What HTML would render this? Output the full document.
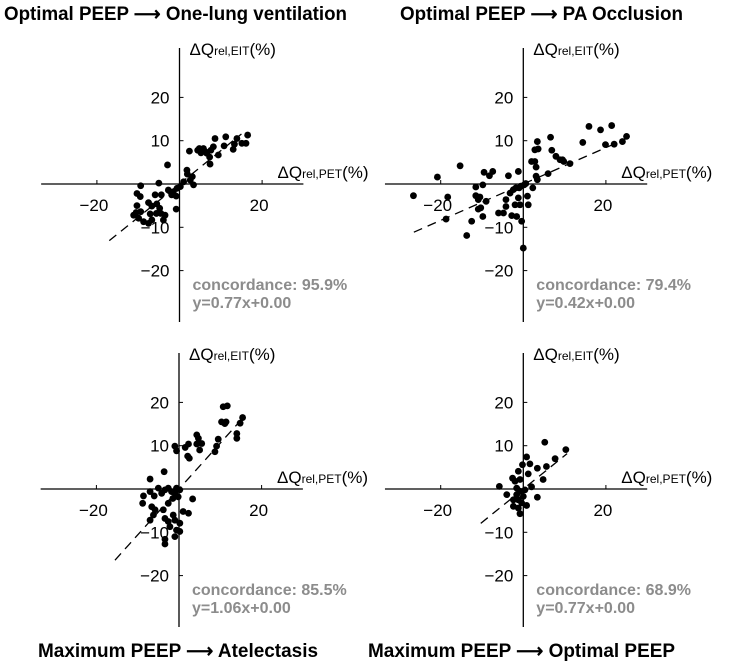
<!DOCTYPE html>
<html><head><meta charset="utf-8"><style>
body{margin:0;background:#fff;}
svg{display:block;font-family:"Liberation Sans",Arial,sans-serif;}
</style></head><body>
<svg id="chart" width="731" height="664" viewBox="0 0 731 664" xmlns="http://www.w3.org/2000/svg"></svg>
<script>
// Panel data (x = ΔQrel,PET %, y = ΔQrel,EIT %)
const p1x=[2.4,4.4,5.2,5.8,6.6,7.6,8.2,7.3,7.4,8.6,9.4,11.2,10.8,13,13.3,13.9,15.1,16.1,16.5,4.8,6.2,-2.9,1.8,1.9,3.1,3.4,2.6,1,0.2,-0.6,-1.5,-1.9,-2.7,-0.8,-0.8,-5,-4.4,-9.4,-10.3,-9.5,-10.3,-7.5,-6.7,-5.9,-5.5,-4.8,-4.5,-3.5,-3.9,-11.1,-10.5,-9.9,-8.7,-7.5,-6.7,-9.4,-7.1,-5.6];
const p1y=[7.6,7.8,7.2,8.2,7.1,7.8,8.6,6.2,4.6,10.5,6.7,10.9,8.8,8,9.2,10.5,9.4,9.4,11.3,8.2,7.5,4.4,3.2,2.3,1.7,-0.2,0.9,0.5,-0.6,-1,-1.8,-2.5,-1.4,-2.8,-5.8,0.2,-2.5,-0.4,-2.2,-2.9,-5,-4.3,-5.1,-2.5,-4.6,-5.6,-6.8,-7.2,-8.3,-7.2,-6.6,-7.9,-8.7,-9.1,-8.3,-6.4,-6.9,-6.8];
const p2x=[-26.6,-20.8,-18.3,-15.3,-18.7,-13.7,-12.5,-11.5,-11.5,-10.9,-10.5,-9.8,-9.5,-8.2,-7.4,-9,-10.3,-10.9,-9.8,-6,-4.8,-4.2,-4.2,-3.6,-3.2,-2.8,-1.6,-2,-1.2,-2.4,-1.8,-1,-0.6,-1.2,-0.8,-0.4,0,0.2,0.6,1.2,1,2.3,2,2.8,2.8,3.6,3.4,3.1,3.1,3.4,6,6.6,6.9,7.9,8.9,9.5,9.8,11.3,14.4,15.9,18.7,19.9,21.4,22,24,25];
const p2y=[-2.7,1.6,-3,4.2,-8.1,-11.9,-8.6,-0.7,-2.7,-3.6,-3,-0.2,2.7,1.9,2.9,-4,-5.5,-5.8,-7.5,-6.7,-6.7,-5.2,-3.6,1.9,-2.1,-7.3,-7.5,-4.8,2.9,-1.3,-0.9,-0.9,-0.5,-3.2,-4.8,-8.6,-14.8,-0.2,0.1,-4.8,-2.8,-0.9,5.2,5.2,7.9,8.1,9.8,3.9,1.8,1,2.4,10.8,7.8,6.4,5.6,5.6,5.2,4.7,9.6,13.3,12.5,9.1,13.5,9.2,9.8,11];
const p3x=[-7,-3.6,-1,-0.6,1.5,2.3,2.1,2.5,4.3,4.7,4.3,5.5,5,8.7,9.1,9.5,10.7,11.7,10.3,11.1,11.4,14,14,14.8,15.4,-8.6,-8.8,-7,-6,-5,-4.2,-3.4,-2.6,-1.8,-1,-0.6,0.2,-0.2,-1.5,-2.6,-6.6,-5.8,-7,-6.2,-3.8,-3.4,-2.6,-2.2,-1,-0.6,0.2,-1,-3.4,-3.4,1,2.3,3.3,0.2,-1.4];
const p3y=[2.3,4,9.9,8.8,9.6,10.4,7.6,7.1,12.5,11.7,10.4,10.5,9,8.6,9.9,11.5,19,19.2,15.5,15.1,15.5,12.8,11.7,15.2,16.5,-1.6,-3.3,-0.6,-1.6,0.2,-1,-0.2,0.2,-0.6,-1,0.2,-0.2,-1.8,-2.2,-3.3,-4.1,-4.8,-7.2,-6,-4.8,-6.8,-7.5,-8.7,-7.2,-9.5,-9.8,-11,-11.6,-12.7,-5.2,-5.6,-2.3,-7.9,-6];
const p4x=[5.2,10.3,7.7,0.8,-0.2,1.6,3.4,5.6,-1.2,1.2,-2.6,-2,-0.8,4.8,-5.8,-4,-1.6,-0.8,0.4,2,3.4,-2.4,-1.2,-0.4,0.8,-2.4,-1.2,-0.8,0,-1.6];
const p4y=[10.8,9.1,7,7.4,5.6,5.8,4.8,5.2,4.1,3.5,2.5,1.8,2.2,2.2,0.6,-1.3,0.2,-0.5,-0.2,0.5,-1.9,-2.5,-2.5,-3.2,-3.8,-4,-4.4,-5.7,-1.7,-1.3];
const slopes=[0.77,0.42,1.06,0.77];
const lineFrom=[-17,-26.5,-15.5,-10.3];
const lineTo=[15,25.5,15.8,10.6];
const concord=["95.9%","79.4%","85.5%","68.9%"];
const eqs=["y=0.77x+0.00","y=0.42x+0.00","y=1.06x+0.00","y=0.77x+0.00"];
const titles=["Optimal PEEP \u27F6 One-lung ventilation","Optimal PEEP \u27F6 PA Occlusion","Maximum PEEP \u27F6 Atelectasis","Maximum PEEP \u27F6 Optimal PEEP"];
const xTicks=[-20,20];
const yTicks=[20,10,-10,-20];

const NS="http://www.w3.org/2000/svg";
const svg=document.getElementById('chart');
function mk(tag,attrs,parent){const e=document.createElementNS(NS,tag);for(const k in attrs)e.setAttribute(k,attrs[k]);(parent||svg).appendChild(e);return e;}
const origins=[[179.5,184],[523.3,184],[179,489],[523.3,489]];
const titlePos=[[4,20,343],[400,20,283],[38,657,280],[368,657,307]];
const XS=4.13, YS=4.33;
const dataX=[p1x,p2x,p3x,p4x], dataY=[p1y,p2y,p3y,p4y];
for(let i=0;i<4;i++){
  const [ox,oy]=origins[i];
  const sx=v=>ox+v*XS, sy=v=>oy-v*YS;
  const g=mk('g',{});
  
  
  const xa=mk('line',{x1:sx(-33.5),x2:sx(30),y1:oy,y2:oy,stroke:'#000','stroke-width':1.3},g);
  
  
  const ya=mk('line',{x1:ox,x2:ox,y1:oy-136,y2:oy+138,stroke:'#000','stroke-width':1.3},g);
  
  
  xTicks.forEach(t=>{
    mk('line',{x1:sx(t),x2:sx(t),y1:oy,y2:oy-4,stroke:'#000','stroke-width':1},g);
    const tx=mk('text',{x:sx(t)-3,y:oy+27,'font-size':17,'text-anchor':'middle'},g);
    tx.textContent=(t<0?'\u2212':'')+Math.abs(t);
    
    
  });
  yTicks.forEach(t=>{
    mk('line',{x1:ox,x2:ox+4,y1:sy(t),y2:sy(t),stroke:'#000','stroke-width':1},g);
    const tx=mk('text',{x:ox-10,y:sy(t)+6,'font-size':17,'text-anchor':'end'},g);
    tx.textContent=(t<0?'\u2212':'')+Math.abs(t);
    
    
  });
  const fl=mk('line',{x1:sx(lineFrom[i]),y1:sy(lineFrom[i]*slopes[i]),x2:sx(lineTo[i]),y2:sy(lineTo[i]*slopes[i]),stroke:'#000','stroke-width':1.3,'stroke-dasharray':'9,6'},g);
  
  
  dataX[i].forEach((v,j)=>{
    const c=mk('circle',{cx:sx(v),cy:sy(dataY[i][j]),r:3.4,fill:'#000'},g);
    
    
  });
  const yl=mk('text',{x:ox+10,y:oy-129,'font-size':17},g);
  yl.innerHTML='\u0394Q<tspan font-size="12">rel,EIT</tspan>(%)';
  
  
  const xl=mk('text',{x:ox+98,y:oy-6,'font-size':17},g);
  xl.innerHTML='\u0394Q<tspan font-size="12">rel,PET</tspan>(%)';
  
  
  const c1=mk('text',{x:ox+13,y:oy+106,'font-size':16,'font-weight':'bold',fill:'#8c8c8c'},g);
  c1.textContent='concordance: '+concord[i];
  
  
  const c2=mk('text',{x:ox+13,y:oy+124,'font-size':16,'font-weight':'bold',fill:'#8c8c8c'},g);
  c2.textContent=eqs[i];
  
  
  const [tx,ty,tw]=titlePos[i];
  const tt=mk('text',{x:tx,y:ty,'font-size':19,'font-weight':'bold',textLength:tw,lengthAdjust:'spacingAndGlyphs'},g);
  tt.textContent=titles[i];
  
  
}
</script>
</body></html>
